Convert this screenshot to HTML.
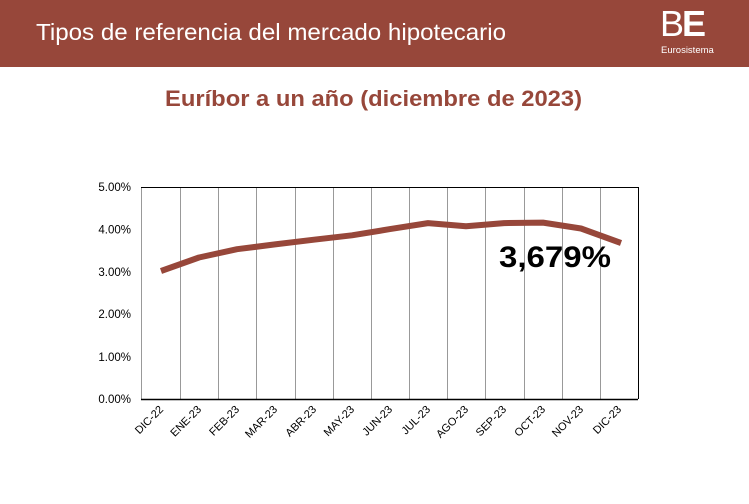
<!DOCTYPE html>
<html><head><meta charset="utf-8"><style>
body{margin:0;width:749px;height:499px;background:#fff;overflow:hidden;font-family:"Liberation Sans",Arial,sans-serif}
</style></head><body>
<svg width="749" height="499" xmlns="http://www.w3.org/2000/svg" font-family="Liberation Sans, Arial, sans-serif">
<rect x="0" y="0" width="749" height="67" fill="#97473a"/>
<text x="36" y="40" font-size="23" fill="#fff" textLength="470" lengthAdjust="spacingAndGlyphs">Tipos de referencia del mercado hipotecario</text>
<text x="660" y="36" font-size="36" fill="#fff" letter-spacing="-2"><tspan font-weight="normal">B</tspan><tspan font-weight="bold">E</tspan></text>
<text x="661" y="53" font-size="9.5" fill="#fff">Eurosistema</text>
<text x="165" y="106" font-size="22" font-weight="bold" fill="#97473a" textLength="417" lengthAdjust="spacingAndGlyphs">Euríbor a un año (diciembre de 2023)</text>
<g stroke="#999" stroke-width="1">
<line x1="180.5" y1="187" x2="180.5" y2="399"/><line x1="218.5" y1="187" x2="218.5" y2="399"/>
<line x1="256.5" y1="187" x2="256.5" y2="399"/><line x1="295.5" y1="187" x2="295.5" y2="399"/>
<line x1="333.5" y1="187" x2="333.5" y2="399"/><line x1="371.5" y1="187" x2="371.5" y2="399"/>
<line x1="409.5" y1="187" x2="409.5" y2="399"/><line x1="447.5" y1="187" x2="447.5" y2="399"/>
<line x1="485.5" y1="187" x2="485.5" y2="399"/><line x1="524.5" y1="187" x2="524.5" y2="399"/>
<line x1="562.5" y1="187" x2="562.5" y2="399"/><line x1="600.5" y1="187" x2="600.5" y2="399"/>
<line x1="141.5" y1="187" x2="141.5" y2="399"/>
</g>
<line x1="141" y1="187.5" x2="638" y2="187.5" stroke="#000"/>
<line x1="638.5" y1="187" x2="638.5" y2="399" stroke="#000"/>
<line x1="141" y1="399.5" x2="638" y2="399.5" stroke="#000" stroke-width="1.5"/>
<g font-size="11.5" fill="#000" text-anchor="end">
<text x="131" y="191">5.00%</text><text x="131" y="233.5">4.00%</text><text x="131" y="276">3.00%</text>
<text x="131" y="318">2.00%</text><text x="131" y="361">1.00%</text><text x="131" y="403">0.00%</text>
</g>
<polyline fill="none" stroke="#97473a" stroke-width="6" stroke-linejoin="round" stroke-linecap="butt"
points="161,271 199,257.5 237,249.2 275,244.4 314,239.7 352,235.3 390,229.1 428,223.1 466,226.3 504,223.1 543,222.6 581,228.5 621,243"/>
<text x="499" y="267" font-size="30" font-weight="bold" fill="#000" textLength="112" lengthAdjust="spacingAndGlyphs">3,679%</text>
<g font-size="11" fill="#000" text-anchor="end">
<text transform="translate(164,410) rotate(-45)">DIC-22</text>
<text transform="translate(202,410) rotate(-45)">ENE-23</text>
<text transform="translate(240,410) rotate(-45)">FEB-23</text>
<text transform="translate(278,410) rotate(-45)">MAR-23</text>
<text transform="translate(317,410) rotate(-45)">ABR-23</text>
<text transform="translate(355,410) rotate(-45)">MAY-23</text>
<text transform="translate(393,410) rotate(-45)">JUN-23</text>
<text transform="translate(431,410) rotate(-45)">JUL-23</text>
<text transform="translate(469,410) rotate(-45)">AGO-23</text>
<text transform="translate(507,410) rotate(-45)">SEP-23</text>
<text transform="translate(546,410) rotate(-45)">OCT-23</text>
<text transform="translate(584,410) rotate(-45)">NOV-23</text>
<text transform="translate(622,410) rotate(-45)">DIC-23</text>
</g>
</svg>
</body></html>
